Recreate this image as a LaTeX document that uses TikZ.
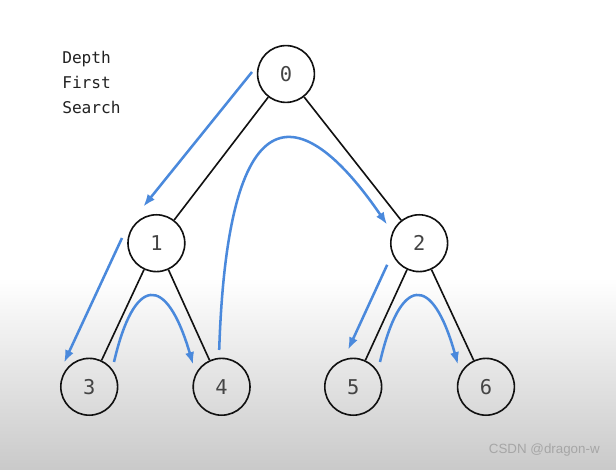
\documentclass[tikz,border=0pt]{standalone}
\usepackage{fontspec}
\setmonofont{DejaVu Sans Mono}
\setsansfont{Liberation Sans}
\usetikzlibrary{arrows.meta, positioning}
\definecolor{c1}{HTML}{111111}
\definecolor{c2}{HTML}{4A89DC}
\definecolor{numcolor}{HTML}{444444}
\definecolor{labelcolor}{HTML}{222222}
\definecolor{markcolor}{HTML}{A6A6A6}

\begin{document}
\begin{tikzpicture}[
    every node/.style={font=\ttfamily},
    vert/.style={
        circle, minimum size=1.42cm, inner sep=0pt,
        line width=1.15pt, draw=c1, text=numcolor,
        font=\ttfamily\fontsize{14.5}{14.5}\selectfont,
    },
    edge/.style={line width=1.15pt, color=c1},
    walk/.style={-{Latex[length=9pt, width=6.5pt]}, line width=1.8pt, color=c2},
    lab/.style={font=\ttfamily\fontsize{11.5}{17.8}\selectfont, text=labelcolor},
]
\useasboundingbox (0,0) rectangle (15.40, 11.75);

% background, white fading to grey
\fill[white] (0,0) rectangle (15.40, 11.75);
\shade[top color=white, bottom color=black!21] (0,0) rectangle (15.40, 4.80);

% ================================================ title
\node[lab, anchor=north west, align=left, inner sep=0pt] (title) at (1.55, 10.47)
    {Depth\\First\\Search};

% ================================================ the tree
\node[vert] (n0) at (7.15, 9.90) {0};
\node[vert] (n1) at (3.91, 5.67) {1};
\node[vert] (n2) at (10.48, 5.67) {2};
\node[vert] (n3) at (2.23, 2.08) {3};
\node[vert] (n4) at (5.54, 2.08) {4};
\node[vert] (n5) at (8.83, 2.08) {5};
\node[vert] (n6) at (12.15, 2.08) {6};

\draw[edge] (n0) -- (n1);
\draw[edge] (n0) -- (n2);
\draw[edge] (n1) -- (n3);
\draw[edge] (n1) -- (n4);
\draw[edge] (n2) -- (n5);
\draw[edge] (n2) -- (n6);

% ================================================ the walk
\coordinate (w1s) at (6.30, 9.95);  \coordinate (w1e) at (3.58, 6.58);
\coordinate (w2s) at (3.05, 5.80);  \coordinate (w2e) at (1.60, 2.68);
\coordinate (w3s) at (2.85, 2.70);  \coordinate (w3e) at (4.83, 2.63);
\coordinate (w4s) at (5.48, 3.00);  \coordinate (w4e) at (9.68, 6.13);
\coordinate (w5s) at (9.68, 5.13);  \coordinate (w5e) at (8.70, 3.00);
\coordinate (w6s) at (9.50, 2.70);  \coordinate (w6e) at (11.45, 2.63);

\draw[walk] (w1s) -- (w1e);
\draw[walk] (w2s) -- (w2e);
\draw[walk] (w3s) .. controls (3.35, 4.85) and (4.15, 4.95) .. (w3e);
\draw[walk] (w4s) .. controls (5.70, 9.75) and (7.63, 9.13) .. (w4e);
\draw[walk] (w5s) -- (w5e);
\draw[walk] (w6s) .. controls (10.00, 4.85) and (10.80, 4.95) .. (w6e);

% watermark
\node[font=\sffamily\fontsize{9.5}{9.5}\selectfont, text=markcolor, anchor=east, inner sep=0pt]
    (mark) at (15.00, 0.50) {CSDN @dragon-w};

\end{tikzpicture}
\end{document}
